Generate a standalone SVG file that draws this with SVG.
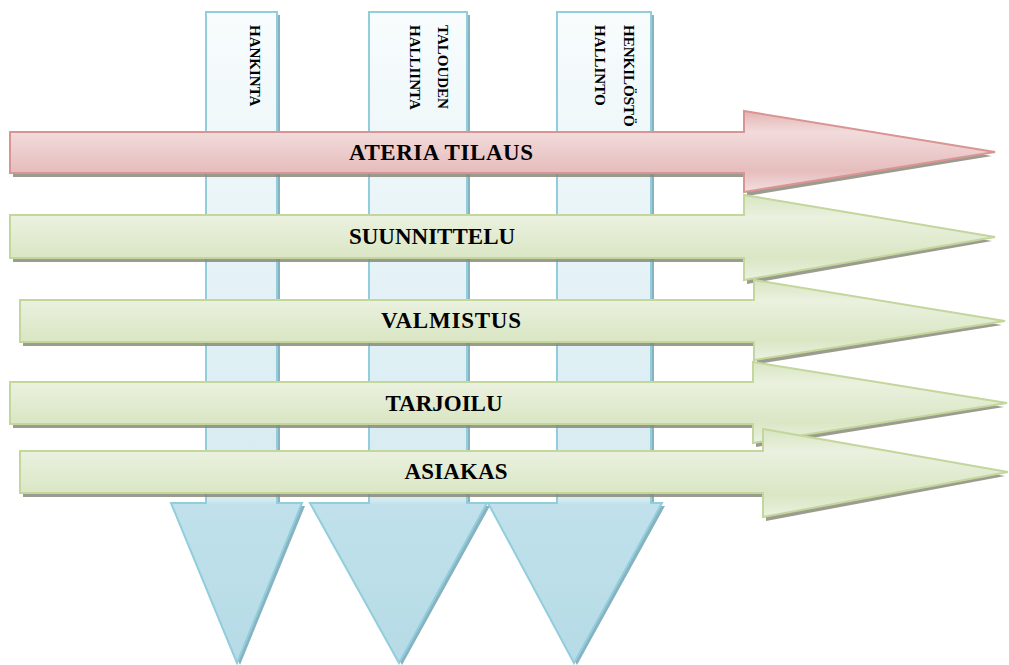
<svg xmlns="http://www.w3.org/2000/svg" width="1009" height="665" viewBox="0 0 1009 665">
  <defs>
    <linearGradient id="colFill" gradientUnits="userSpaceOnUse" x1="0" y1="12" x2="0" y2="663">
      <stop offset="0" stop-color="#f8fcfd"/>
      <stop offset="0.75" stop-color="#d4eaf1"/>
      <stop offset="0.756" stop-color="#c0e1eb"/>
      <stop offset="1" stop-color="#b6dbe6"/>
    </linearGradient>
    <linearGradient id="redFill" x1="0" y1="0" x2="0" y2="1">
      <stop offset="0" stop-color="#e4b3b3"/>
      <stop offset="0.26" stop-color="#f2dbdb"/>
      <stop offset="0.74" stop-color="#e6bdbd"/>
      <stop offset="1" stop-color="#f3dfdf"/>
    </linearGradient>
    <linearGradient id="greenFill" x1="0" y1="0" x2="0" y2="1">
      <stop offset="0" stop-color="#d9e5c2"/>
      <stop offset="0.26" stop-color="#eaf1df"/>
      <stop offset="0.74" stop-color="#dae6c4"/>
      <stop offset="1" stop-color="#ebf1e1"/>
    </linearGradient>
    <filter id="soft" x="-5%" y="-5%" width="110%" height="110%">
      <feGaussianBlur stdDeviation="0.7"/>
    </filter>
  </defs>
  <style>
    .col { fill: url(#colFill); stroke: #92cddc; stroke-width: 2; }
    .colShadow { fill: #5f9aab; opacity: 0.75; }
    .red { fill: url(#redFill); stroke: #d99594; stroke-width: 2; }
    .green { fill: url(#greenFill); stroke: #c3d69b; stroke-width: 2; }
    .shadow { fill: #8a8a7c; opacity: 0.85; }
    text { font-family: "Liberation Serif", "DejaVu Serif", serif; font-weight: 700; fill: #000; }
    .vlabel { font-size: 15px; }
    .hlabel { font-size: 23px; text-anchor: middle; }
  </style>

  <rect width="1009" height="665" fill="#ffffff"/>

  <!-- vertical department arrows -->
  <g id="hankinta">
    <path class="colShadow" filter="url(#soft)" d="M209,15 H280 V506 H305 L240,665 L174,506 H209 Z"/>
    <path class="col" d="M206,12 H277 V503 H302 L237,663 L171,503 H206 Z"/>
    <text class="vlabel" transform="translate(250,25) rotate(90)">HANKINTA</text>
  </g>
  <g id="talouden-halliinta">
    <path class="colShadow" filter="url(#soft)" d="M372,15 H470 V506 H490 L402,665 L313,506 H372 Z"/>
    <path class="col" d="M369,12 H467 V503 H487 L399,663 L310,503 H369 Z"/>
    <text class="vlabel" transform="translate(438,25) rotate(90)">TALOUDEN</text>
    <text class="vlabel" transform="translate(410,25) rotate(90)">HALLIINTA</text>
  </g>
  <g id="henkilosto-hallinto">
    <path class="colShadow" filter="url(#soft)" d="M560,15 H654 V506 H665 L577,665 L491,506 H560 Z"/>
    <path class="col" d="M557,12 H651 V503 H662 L574,663 L488,503 H557 Z"/>
    <text class="vlabel" transform="translate(624,25) rotate(90)">HENKILÖSTÖ</text>
    <text class="vlabel" transform="translate(595,25) rotate(90)">HALLINTO</text>
  </g>

  <!-- horizontal process arrows -->
  <g id="connectors">
    <g id="ateria-tilaus">
      <path class="shadow" filter="url(#soft)" d="M13,136 H747 V115 L992,156 L747,196 V177 H13 Z"/>
      <path class="red" d="M10,132 H744 V111 L995,152 L744,192 V173 H10 Z"/>
      <text class="hlabel" x="441" y="160" textLength="184">ATERIA TILAUS</text>
    </g>
    <g id="suunnittelu">
      <path class="shadow" filter="url(#soft)" d="M13,219 H747 V199 L992,241 L747,284 V262 H13 Z"/>
      <path class="green" d="M10,215 H744 V195 L995,237 L744,280 V258 H10 Z"/>
      <text class="hlabel" x="432" y="244">SUUNNITTELU</text>
    </g>
    <g id="valmistus">
      <path class="shadow" filter="url(#soft)" d="M23,304 H757 V284 L1002,325 L757,364 V346 H23 Z"/>
      <path class="green" d="M20,300 H754 V280 L1005,321 L754,360 V342 H20 Z"/>
      <text class="hlabel" x="451" y="328" textLength="140">VALMISTUS</text>
    </g>
    <g id="tarjoilu">
      <path class="shadow" filter="url(#soft)" d="M13,386 H756 V366 L1004,407 L756,447 V428 H13 Z"/>
      <path class="green" d="M10,382 H753 V362 L1007,403 L753,443 V424 H10 Z"/>
      <text class="hlabel" x="444" y="411">TARJOILU</text>
    </g>
    <g id="asiakas">
      <path class="shadow" filter="url(#soft)" d="M23,455 H766 V433 L1005,476 L766,521 V497 H23 Z"/>
      <path class="green" d="M20,451 H763 V429 L1008,472 L763,517 V493 H20 Z"/>
      <text class="hlabel" x="456" y="479" textLength="103">ASIAKAS</text>
    </g>
  </g>
</svg>
